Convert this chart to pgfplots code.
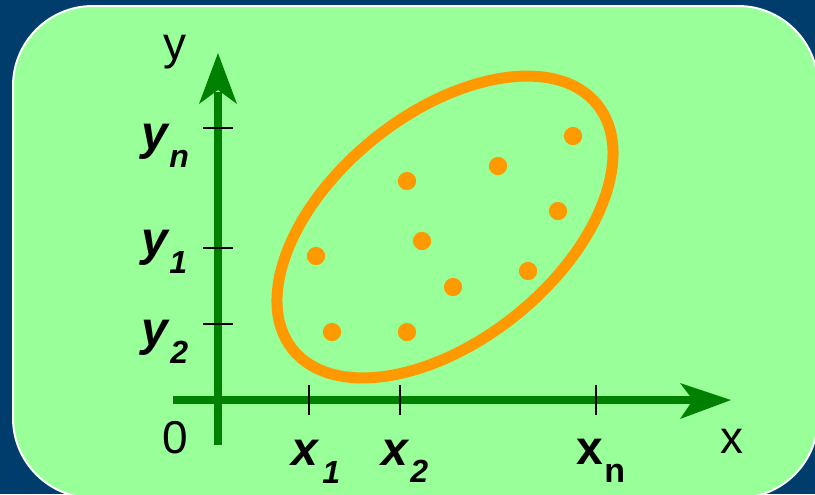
\documentclass[border=0pt]{standalone}
\usepackage{pgfplots}
\pgfplotsset{compat=1.18}
\usepackage{fontspec}
\setmainfont{Liberation Sans}
\definecolor{navybg}{RGB}{0,60,108}
\definecolor{panel}{RGB}{153,255,153}
\definecolor{axgreen}{RGB}{0,128,0}
\definecolor{dotorange}{RGB}{255,153,0}
\newcommand{\lbl}{\fontsize{23}{26}\selectfont}
\newcommand{\bi}{\fontsize{24}{28}\selectfont\bfseries\itshape}
\newcommand{\sub}{\fontsize{16}{18}\selectfont\bfseries\itshape}
\begin{document}
\begin{tikzpicture}
\useasboundingbox (0,0) rectangle (407.5pt,247pt);
\clip (0,0) rectangle (407.5pt,247pt);
\fill[navybg] (0,0) rectangle (407.5pt,247pt);
\begin{axis}[
  width=407.5pt, height=247pt, scale only axis,
  xmin=0, xmax=815, ymin=0, ymax=494, y dir=reverse,
  axis lines=none, clip=false]
% panel
\draw[white, line width=1pt, fill=panel, rounded corners=40pt]
  (axis cs:13,6) rectangle (axis cs:818,498);
% axes
\draw[axgreen, line width=4pt] (axis cs:218,445) -- (axis cs:218,92);
\fill[axgreen] (axis cs:218,53) -- (axis cs:237,104) -- (axis cs:218,90) -- (axis cs:199,104) -- cycle;
\draw[axgreen, line width=4pt] (axis cs:173,400) -- (axis cs:695,400);
\fill[axgreen] (axis cs:731,400) -- (axis cs:680,383) -- (axis cs:693,400) -- (axis cs:680,419) -- cycle;
% ticks
\draw[black, line width=1pt] (axis cs:203,128) -- (axis cs:233,128);
\draw[black, line width=1pt] (axis cs:203,248) -- (axis cs:233,248);
\draw[black, line width=1pt] (axis cs:203,324) -- (axis cs:233,324);
\draw[black, line width=1pt] (axis cs:309,385) -- (axis cs:309,415);
\draw[black, line width=1pt] (axis cs:400,385) -- (axis cs:400,415);
\draw[black, line width=1pt] (axis cs:596,385) -- (axis cs:596,415);
% ellipse around the points
\draw[dotorange, line width=5.5pt, rotate around={38.8:(axis cs:445,227)}]
  (axis cs:445,227) ellipse [x radius=97.7pt, y radius=56.6pt];
% points
\addplot[only marks, mark=*, mark size=4.35pt, color=dotorange] coordinates {
  (573,136) (498,166) (407,181) (558,211) (422,241)
  (316,256) (528,271) (453,287) (332,332) (407,332)};
% labels
\node[anchor=base west, inner sep=0pt, font=\lbl] at (axis cs:163,59) {y};
\node[anchor=base west, inner sep=0pt, font=\lbl] at (axis cs:162,453) {0};
\node[anchor=base west, inner sep=0pt, font=\lbl] at (axis cs:720,453) {x};
\node[anchor=base west, inner sep=0pt, font=\bi] at (axis cs:141,149) {y};
\node[anchor=base west, inner sep=0pt, font=\sub] at (axis cs:169,167) {n};
\node[anchor=base west, inner sep=0pt, font=\bi] at (axis cs:141,255) {y};
\node[anchor=base west, inner sep=0pt, font=\sub] at (axis cs:169,273) {1};
\node[anchor=base west, inner sep=0pt, font=\bi] at (axis cs:141,345) {y};
\node[anchor=base west, inner sep=0pt, font=\sub] at (axis cs:170,363) {2};
\node[anchor=base west, inner sep=0pt, font=\bi] at (axis cs:291,465) {x};
\node[anchor=base west, inner sep=0pt, font=\sub] at (axis cs:322,483) {1};
\node[anchor=base west, inner sep=0pt, font=\bi] at (axis cs:381,465) {x};
\node[anchor=base west, inner sep=0pt, font=\sub] at (axis cs:410,482) {2};
\node[anchor=base west, inner sep=0pt, font=\fontsize{24}{28}\selectfont\bfseries] at (axis cs:576,464) {x};
\node[anchor=base west, inner sep=0pt, font=\fontsize{17}{20}\selectfont\bfseries] at (axis cs:604,482) {n};
\end{axis}
\end{tikzpicture}
\end{document}
